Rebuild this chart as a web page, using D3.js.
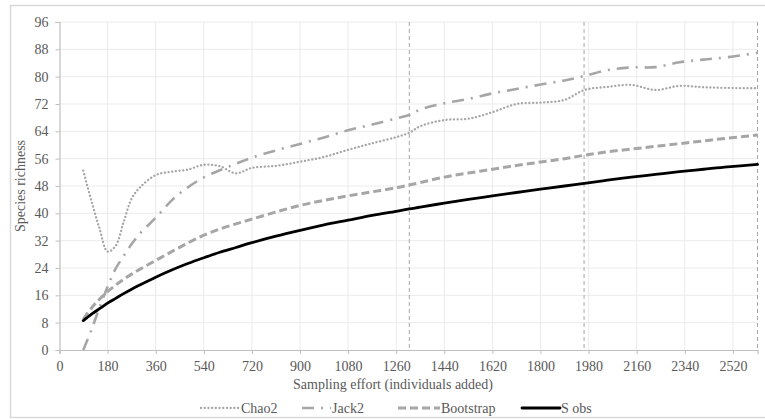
<!DOCTYPE html>
<html>
<head>
<meta charset="utf-8">
<script src="https://cdn.jsdelivr.net/npm/d3@7"></script>
<style>
  html, body { margin: 0; padding: 0; background: #fff; }
</style>
</head>
<body>
<svg id="chart" width="765" height="419"></svg>
<script>
// sampling effort (individuals added)
const effort = [89, 120, 150, 180, 210, 240, 270, 300, 360, 420, 480, 540, 600, 660, 720, 810, 900, 990, 1080, 1170, 1260, 1309, 1350, 1440, 1530, 1620, 1710, 1800, 1890, 1964, 2050, 2140, 2230, 2320, 2410, 2500, 2612];

const chao2 = [52.5, 43.5, 35.5, 28.8, 30.5, 37.5, 44.3, 47.5, 51.2, 52.2, 52.8, 54.2, 53.8, 51.7, 53.3, 53.9, 55.1, 56.5, 58.6, 60.5, 62.3, 63.6, 65.5, 67.3, 67.7, 69.6, 72.0, 72.4, 73.2, 76.1, 77.0, 77.6, 76.1, 77.3, 76.9, 76.7, 76.6];
const jack2 = [0, 6, 12.5, 18.5, 23.8, 27.5, 31, 34, 38.7, 43.8, 47.6, 50.5, 52.6, 54.5, 56.3, 58.4, 60.3, 62.2, 64.3, 66, 67.8, 68.8, 70.4, 72.2, 73.5, 75.1, 76.4, 77.7, 78.9, 80.2, 81.9, 82.7, 82.8, 84.2, 85.0, 85.7, 87.0];
const bootstrap = [9, 12.3, 14.9, 17.1, 19.0, 20.7, 22.2, 23.6, 26.2, 28.8, 31.3, 33.6, 35.4, 36.9, 38.3, 40.4, 42.3, 43.8, 45.1, 46.3, 47.5, 48.3, 49.0, 50.6, 51.8, 52.9, 54.0, 55.0, 56.0, 57.0, 58.0, 58.8, 59.6, 60.4, 61.2, 62.0, 62.9];
const sObs = [8.6, 10.5, 12.1, 13.7, 15.1, 16.5, 17.8, 19.0, 21.3, 23.4, 25.3, 27.0, 28.6, 30.0, 31.4, 33.3, 35.0, 36.6, 38.0, 39.4, 40.6, 41.3, 41.8, 43.0, 44.1, 45.1, 46.1, 47.1, 48.0, 48.8, 49.7, 50.6, 51.4, 52.2, 52.9, 53.6, 54.3];

// vertical markers and ticks
const markers = [1309, 1963, 2612];
const xTicks = d3.range(0, 2521, 180);
const yTicks = d3.range(0, 97, 8);

const seriesNames = ["Chao2", "Jack2", "Bootstrap", "S obs"];

const serif = '"Liberation Serif", "DejaVu Serif", serif';
const svg = d3.select("#chart");
const margin = {left: 59.5, right: 7.5, top: 22, bottom: 69};
const width = 765 - margin.left - margin.right;
const height = 419 - margin.top - margin.bottom;

const x = d3.scaleLinear().domain([0, 2612]).range([margin.left, margin.left + width]);
const y = d3.scaleLinear().domain([0, 96]).range([margin.top + height, margin.top]);

// chart frame
svg.append("rect")
   .attr("x", 10.5).attr("y", 5.5)
   .attr("width", 770).attr("height", 412)
   .attr("fill", "#fff")
   .attr("stroke", "#d9d9d9")
   .attr("stroke-width", 1.5);

// gridlines
svg.append("g")
   .selectAll("line.hgrid")
   .data(yTicks.filter(d => d > 0))
   .enter().append("line")
   .attr("x1", x(0)).attr("x2", x(2612))
   .attr("y1", d => y(d)).attr("y2", d => y(d))
   .attr("stroke", "#ebebeb").attr("stroke-width", 1);

svg.append("g")
   .selectAll("line.vgrid")
   .data(xTicks.filter(d => d > 0))
   .enter().append("line")
   .attr("x1", d => x(d)).attr("x2", d => x(d))
   .attr("y1", y(0)).attr("y2", y(96))
   .attr("stroke", "#ebebeb").attr("stroke-width", 1);

// axes
const xAxis = svg.append("g")
   .attr("transform", `translate(0,${y(0)})`)
   .call(d3.axisBottom(x).tickValues(xTicks).tickFormat(d3.format("d")).tickSize(4).tickPadding(7));
const yAxis = svg.append("g")
   .attr("transform", `translate(${x(0)},0)`)
   .call(d3.axisLeft(y).tickValues(yTicks).tickFormat(d3.format("d")).tickSize(4).tickPadding(7));

[xAxis, yAxis].forEach(g => {
  g.attr("font-family", serif).attr("font-size", 14);
  g.select(".domain").attr("stroke", "#bfbfbf").attr("stroke-width", 1.2);
  g.selectAll(".tick line").attr("stroke", "#bfbfbf");
  g.selectAll(".tick text").attr("fill", "#595959");
});

// vertical dashed markers
svg.append("g")
   .selectAll("line")
   .data(markers)
   .enter().append("line")
   .attr("x1", d => x(d)).attr("x2", d => x(d))
   .attr("y1", y(96)).attr("y2", y(0))
   .attr("stroke", "#a6a6a6")
   .attr("stroke-width", 1)
   .attr("stroke-dasharray", "4,3");

// series
const styles = [
  {name: "Chao2", values: chao2, color: "#a6a6a6", width: 2.3, dash: "0.1,3.6", cap: "round"},
  {name: "Jack2", values: jack2, color: "#a6a6a6", width: 2.6, dash: "12,7,2,7", cap: "butt"},
  {name: "Bootstrap", values: bootstrap, color: "#a6a6a6", width: 3, dash: "8,4", cap: "butt"},
  {name: "S obs", values: sObs, color: "#000000", width: 2.8, dash: null, cap: "round"}
];

const line = d3.line()
   .x(d => x(d[0]))
   .y(d => y(d[1]))
   .curve(d3.curveCatmullRom.alpha(0.5));

styles.forEach(s => {
  svg.append("path")
     .datum(effort.map((e, i) => [e, s.values[i]]))
     .attr("d", line)
     .attr("fill", "none")
     .attr("stroke", s.color)
     .attr("stroke-width", s.width)
     .attr("stroke-linecap", s.cap)
     .attr("stroke-dasharray", s.dash);
});

// axis titles
svg.append("text")
   .attr("x", 393).attr("y", 389)
   .attr("text-anchor", "middle")
   .attr("fill", "#595959")
   .attr("font-family", serif)
   .attr("font-size", 14)
   .text("Sampling effort (individuals added)");

svg.append("text")
   .attr("transform", "translate(25,186) rotate(-90)")
   .attr("text-anchor", "middle")
   .attr("fill", "#595959")
   .attr("font-family", serif)
   .attr("font-size", 14)
   .text("Species richness");

// legend
const legendPos = [{x1: 201, x2: 240}, {x1: 302, x2: 331}, {x1: 398, x2: 440}, {x1: 522, x2: 560}];
const legend = svg.append("g");
styles.forEach((s, i) => {
  const p = legendPos[i];
  legend.append("line")
     .attr("x1", p.x1).attr("x2", p.x2)
     .attr("y1", 408).attr("y2", 408)
     .attr("stroke", s.color)
     .attr("stroke-width", s.width)
     .attr("stroke-linecap", s.cap)
     .attr("stroke-dasharray", s.dash);
  legend.append("text")
     .attr("x", p.x2 + 1).attr("y", 413)
     .attr("fill", "#595959")
     .attr("font-family", serif)
     .attr("font-size", 14)
     .text(seriesNames[i]);
});
</script>
</body>
</html>
